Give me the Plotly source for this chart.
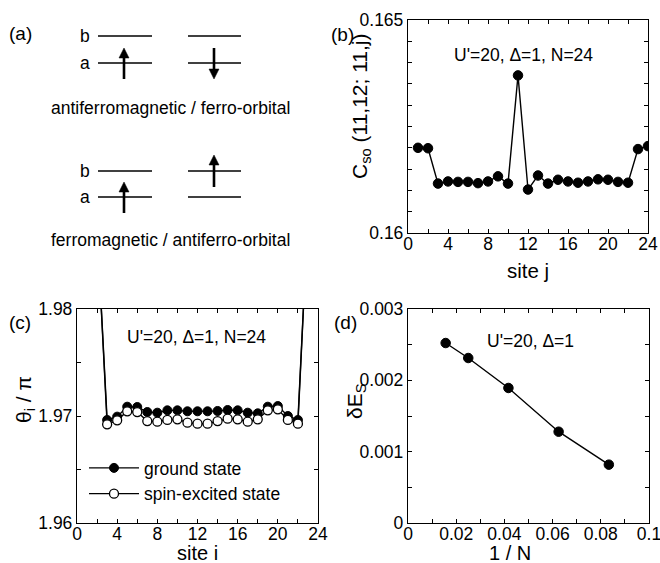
import plotly.graph_objects as go

W, H = 660, 563
FONT = "Liberation Sans, Arial, sans-serif"

# ---------------- data ----------------
site_j = list(range(1, 25))
c_so = [0.16200, 0.16199, 0.16116, 0.16121, 0.16120, 0.16120, 0.16117, 0.16121,
        0.16133, 0.16116, 0.16370, 0.16102, 0.16135, 0.16116, 0.16125, 0.16121,
        0.16118, 0.16121, 0.16126, 0.16125, 0.16120, 0.16118, 0.16197, 0.16204]

site_i = list(range(1, 25))
theta_ground = [1.9950, 1.9877, 1.96963, 1.96994, 1.97087, 1.97084, 1.97037, 1.97031,
                1.97053, 1.97053, 1.97044, 1.97044, 1.97044, 1.97047, 1.97056, 1.97053,
                1.97031, 1.97025, 1.97087, 1.97093, 1.97000, 1.96963, 1.9888, 1.9950]
theta_excited = [1.9950, 1.9877, 1.96922, 1.96960, 1.97044, 1.97037, 1.96953, 1.96947,
                 1.96963, 1.96969, 1.96938, 1.96928, 1.96928, 1.96953, 1.96975, 1.96969,
                 1.96947, 1.96969, 1.97053, 1.97062, 1.96963, 1.96928, 1.9888, 1.9950]

inv_N = [1 / 64, 1 / 40, 1 / 24, 1 / 16, 1 / 12]
delta_E = [0.002523, 0.002313, 0.001893, 0.001280, 0.000818]

site_tickvals = list(range(0, 25, 2))
site_ticktext = [str(v) if v % 4 == 0 else "" for v in site_tickvals]
b_ytickvals = [0.16 + 0.0005 * k for k in range(11)]
b_yticktext = ["0.16"] + [""] * 9 + ["0.165"]
c_ytickvals = [1.96, 1.965, 1.97, 1.975, 1.98]
c_yticktext = ["1.96", "", "1.97", "", "1.98"]
d_ytickvals = [0.0005 * k for k in range(7)]
d_yticktext = ["0", "", "0.001", "", "0.002", "", "0.003"]
d_xtickvals = [0.01 * k for k in range(11)]
d_xticktext = ["0", "", "0.02", "", "0.04", "", "0.06", "", "0.08", "", "0.1"]


def px(x):
    return x / W


def py(y):
    return 1 - y / H


fig = go.Figure()

mk = dict(color="black", size=9.5, line=dict(color="black", width=1))
fig.add_trace(go.Scatter(x=site_j, y=c_so, mode="lines+markers", xaxis="x", yaxis="y",
                         line=dict(color="black", width=1.4), marker=mk, showlegend=False))
fig.add_trace(go.Scatter(x=site_i, y=theta_ground, mode="lines+markers", xaxis="x2", yaxis="y2",
                         name="ground state",
                         line=dict(color="black", width=1.4),
                         marker=dict(color="black", size=9, line=dict(color="black", width=1))))
fig.add_trace(go.Scatter(x=site_i, y=theta_excited, mode="lines+markers", xaxis="x2", yaxis="y2",
                         name="spin-excited state",
                         line=dict(color="black", width=1.4),
                         marker=dict(color="white", size=9, line=dict(color="black", width=1.3))))
fig.add_trace(go.Scatter(x=inv_N, y=delta_E, mode="lines+markers", xaxis="x3", yaxis="y3",
                         line=dict(color="black", width=1.4), marker=mk, showlegend=False))

axis_common = dict(showline=True, linecolor="black", linewidth=1.3, mirror="allticks",
                   ticks="inside", ticklen=4, tickcolor="black", tickwidth=1,
                   showgrid=False, zeroline=False, tickmode="array", automargin=False,
                   ticklabeloverflow="allow",
                   tickfont=dict(family=FONT, size=17.5, color="black"))

fig.update_layout(
    width=W, height=H, autosize=False,
    margin=dict(l=0, r=0, t=0, b=0, pad=0, autoexpand=False),
    paper_bgcolor="white", plot_bgcolor="white",
    font=dict(family=FONT, size=17, color="black"),
    xaxis=dict(domain=[px(408), px(648)], anchor="y", range=[0, 24],
               tickvals=site_tickvals, ticktext=site_ticktext, **axis_common),
    yaxis=dict(domain=[py(233), py(20)], anchor="x", range=[0.16, 0.165],
               tickvals=b_ytickvals, ticktext=b_yticktext, **axis_common),
    xaxis2=dict(domain=[px(77), px(318)], anchor="y2", range=[0, 24],
                tickvals=site_tickvals, ticktext=site_ticktext, **axis_common),
    yaxis2=dict(domain=[py(523), py(309)], anchor="x2", range=[1.96, 1.98],
                tickvals=c_ytickvals, ticktext=c_yticktext, **axis_common),
    xaxis3=dict(domain=[px(408), px(649)], anchor="y3", range=[0, 0.1],
                tickvals=d_xtickvals, ticktext=d_xticktext, **axis_common),
    yaxis3=dict(domain=[py(523), py(309)], anchor="x3", range=[0, 0.003],
                tickvals=d_ytickvals, ticktext=d_yticktext, **axis_common),
    legend=dict(x=px(84), y=py(450), xanchor="left", yanchor="top",
                bgcolor="rgba(0,0,0,0)", font=dict(family=FONT, size=17.5),
                tracegroupgap=0, itemwidth=50),
)

# pull the x tick labels a little closer to the axes, as in the reference
try:
    fig.update_xaxes(ticklabelstandoff=-5)
except Exception:
    pass


def ann(text, x, y, size=16, angle=0, xanchor="center"):
    fig.add_annotation(text=text, x=px(x), y=py(y), xref="paper", yref="paper",
                       showarrow=False, textangle=angle, xanchor=xanchor, yanchor="middle",
                       font=dict(family=FONT, size=size, color="black"))


ann("(a)", 20, 33, 19)
ann("(b)", 342, 35, 19)
ann("(c)", 20, 322, 19)
ann("(d)", 345, 322, 19)

ann("U'=20, Δ=1, N=24", 523, 55, 17.5)
ann("U'=20, Δ=1, N=24", 196, 337, 17.5)
ann("U'=20, Δ=1", 530, 341, 17.5)

ann("site j", 528, 270, 20.5)
ann("site i", 197, 553, 20)
ann("1 / N", 510, 553, 20)
ann("C<sub>so</sub> (11,12; 11,j)", 361, 107, 21, angle=-90)
ann("θ<sub>i</sub> / π", 25, 400, 21, angle=-90)
ann("δE<sub>S</sub>", 356, 401, 21, angle=-90)


def hline(x0, x1, y):
    fig.add_shape(type="line", xref="paper", yref="paper",
                  x0=px(x0), x1=px(x1), y0=py(y), y1=py(y),
                  line=dict(color="black", width=1.3))


def arrow(x, y_tail, y_tip):
    d = 1 if y_tip > y_tail else -1
    base = y_tip - d * 10
    fig.add_shape(type="line", xref="paper", yref="paper",
                  x0=px(x), x1=px(x), y0=py(y_tail), y1=py(base),
                  line=dict(color="black", width=2.6))
    path = (f"M {px(x - 5)} {py(base)} L {px(x + 5)} {py(base)} "
            f"L {px(x)} {py(y_tip)} Z")
    fig.add_shape(type="path", xref="paper", yref="paper", path=path,
                  fillcolor="black", line=dict(color="black", width=0.5))


for (yb, ya) in [(36, 63), (171, 197)]:
    hline(98, 152, yb)
    hline(98, 152, ya)
    hline(188, 241, yb)
    hline(188, 241, ya)
    ann("b", 85, yb, 17.5)
    ann("a", 85, ya, 17.5)

arrow(124, 79, 48)
arrow(214, 48, 79)
arrow(124, 213, 182)
arrow(214, 187, 155)

ann("antiferromagnetic / ferro-orbital", 170, 108, 17.5)
ann("ferromagnetic / antiferro-orbital", 170, 240, 17.5)

fig.write_html("out.html", config={"displayModeBar": False},
               post_script="document.body.style.margin='0';document.body.style.padding='0';")
